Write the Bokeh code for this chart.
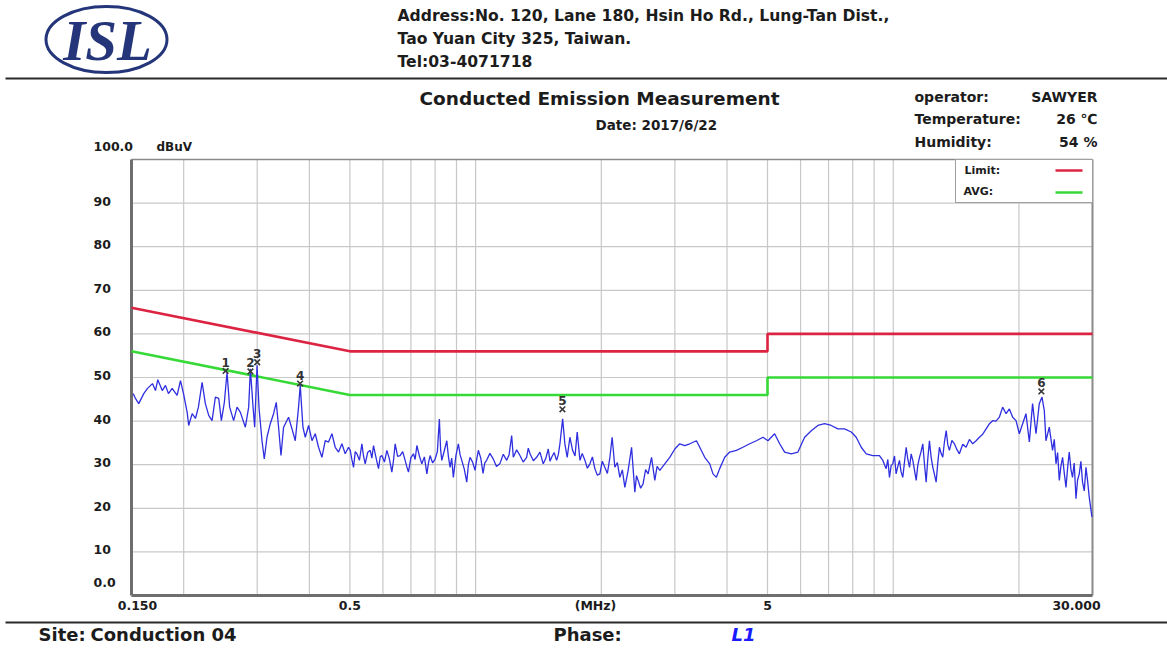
import math
from bokeh.plotting import figure
from bokeh.models import Range1d, LinearScale
from bokeh.core.properties import value
from bokeh.embed import file_html
from bokeh.resources import INLINE

# ---------------- data ----------------
limit_mhz = [0.15, 0.5, 5, 5, 30]
limit_qp_dbuv = [66, 56, 56, 60, 60]
limit_avg_dbuv = [56, 46, 46, 50, 50]

marker_ids = ["1", "2", "3", "4", "5", "6"]
marker_mhz = [0.252, 0.289, 0.300, 0.380, 1.614, 22.63]
marker_dbuv = [51.5, 51.4, 53.5, 48.6, 42.7, 46.8]

y_ticks = [0, 10, 20, 30, 40, 50, 60, 70, 80, 90, 100]
y_tick_labels = ["0.0", "10", "20", "30", "40", "50", "60", "70", "80", "90", "100.0"]
x_ticks = [0.15, 0.5, 5, 30]
x_tick_labels = ["0.150", "0.5", "5", "30.000"]
grid_mhz = [0.2, 0.3, 0.4, 0.5, 0.6, 0.7, 0.8, 0.9, 1, 2, 3, 4, 5, 6, 7, 8, 9, 10, 20]

trace_mhz = [
    # 0.15 - 0.5 MHz
    0.1514, 0.1533, 0.1561, 0.1605, 0.1638, 0.1684, 0.1712, 0.1734, 0.1777, 0.1809,
    0.1839, 0.1877, 0.1929, 0.1965, 0.1998, 0.2039, 0.2056, 0.2096, 0.2134, 0.2169,
    0.2214, 0.2254, 0.2296, 0.2339, 0.2382, 0.2426, 0.2462, 0.2503, 0.2540, 0.2577,
    0.2634, 0.2684, 0.2734, 0.2810, 0.2862, 0.2889, 0.2932, 0.2958, 0.2997, 0.3030,
    0.3080, 0.3119, 0.3166, 0.3224, 0.3283, 0.3332, 0.3375, 0.3420, 0.3469, 0.3566,
    0.3634, 0.3700, 0.3768, 0.3803, 0.3860, 0.3910, 0.3982, 0.4057, 0.4131, 0.4207,
    0.4286, 0.4365, 0.4445, 0.4529, 0.4612, 0.4697, 0.4785, 0.4873, 0.4963,
    # 0.5 - 1 MHz
    0.5010, 0.5055, 0.5102, 0.5150, 0.5198, 0.5270, 0.5343, 0.5390, 0.5441, 0.5515,
    0.5593, 0.5645, 0.5696, 0.5775, 0.5855, 0.5910, 0.5965, 0.6050, 0.6131, 0.6215,
    0.6302, 0.6360, 0.6418, 0.6505, 0.6597, 0.6690, 0.6781, 0.6845, 0.6906, 0.7000,
    0.7099, 0.7165, 0.7234, 0.7335, 0.7436, 0.7540, 0.7644, 0.7715, 0.7783, 0.7890,
    0.8000, 0.8100, 0.8190, 0.8245, 0.8300, 0.8415, 0.8532, 0.8610, 0.8688, 0.8765,
    0.8846, 0.8970, 0.9094, 0.9180, 0.9266, 0.9395, 0.9524, 0.9610, 0.9699, 0.9835,
    0.9970, 1.0060, 1.0153,
    # 1 - 2.8 MHz
    1.029, 1.042, 1.052, 1.063, 1.082, 1.101, 1.122, 1.144, 1.165, 1.187,
    1.203, 1.220, 1.231, 1.254, 1.277, 1.300, 1.325, 1.337, 1.350, 1.375,
    1.400, 1.426, 1.452, 1.472, 1.493, 1.507, 1.521, 1.542, 1.563, 1.578,
    1.592, 1.616, 1.636, 1.657, 1.682, 1.707, 1.730, 1.751, 1.778, 1.800,
    1.827, 1.852, 1.878, 1.904, 1.930, 1.957, 1.984, 2.011, 2.039, 2.068,
    2.097, 2.123, 2.155, 2.185, 2.215, 2.246, 2.277, 2.319, 2.363, 2.406,
    2.428, 2.450, 2.484, 2.518, 2.553, 2.589, 2.638, 2.686, 2.720, 2.761,
    # 2.8 - 9.3 MHz
    2.838, 2.917, 2.999, 3.082, 3.168, 3.257, 3.379, 3.441,
    3.537, 3.636, 3.702, 3.772, 3.841, 3.949, 4.059, 4.212, 4.367, 4.532,
    4.702, 4.876, 5.012, 5.200, 5.346, 5.495, 5.702, 5.913, 6.135, 6.365,
    6.601, 6.849, 7.105, 7.369, 7.645, 7.934, 8.154, 8.383, 8.616, 8.933,
    9.268,
    # 9.4 - 30 MHz
    9.441, 9.530, 9.617, 9.705, 9.795, 9.885, 9.975, 10.07, 10.16, 10.25,
    10.35, 10.44, 10.54, 10.64, 10.74, 10.84, 10.94, 11.04, 11.14, 11.24,
    11.35, 11.45, 11.56, 11.66, 11.77, 11.88, 11.99, 12.10, 12.21, 12.32,
    12.44, 12.55, 12.67, 12.78, 12.90, 13.02, 13.14, 13.26, 13.39, 13.51,
    13.63, 13.82, 14.01, 14.20, 14.40, 14.67, 14.94, 15.22, 15.50, 15.79,
    16.08, 16.38, 16.69, 17.00, 17.30, 17.62, 17.95, 18.28, 18.63, 18.97,
    19.32, 19.68, 20.04, 20.41, 20.79, 21.18, 21.56, 21.97, 22.37, 22.71,
    23.00, 23.21, 23.64, 24.07, 24.30, 24.53, 24.75, 24.98, 25.20, 25.44,
    25.68, 25.92, 26.15, 26.39, 26.63, 26.87, 27.12, 27.39, 27.63, 27.89,
    28.14, 28.40, 28.67, 28.94, 29.20, 29.47, 29.91,
]
trace_dbuv = [
    # 0.15 - 0.5 MHz
    46.3, 45.2, 44.0, 46.3, 47.5, 48.6, 47.0, 49.5, 47.0, 48.2,
    46.3, 47.5, 45.9, 49.3, 46.3, 42.0, 39.0, 41.7, 40.6, 43.2,
    48.9, 44.0, 41.3, 40.1, 45.5, 45.2, 40.1, 44.3, 51.2, 43.2,
    40.1, 43.2, 42.0, 38.6, 43.2, 52.0, 43.2, 38.6, 52.8, 43.0,
    35.5, 31.3, 36.3, 39.4, 41.7, 44.3, 38.6, 32.1, 38.6, 40.9,
    38.2, 35.5, 43.2, 48.2, 38.6, 36.3, 39.0, 35.5, 37.1, 34.0,
    31.7, 35.5, 35.2, 37.1, 34.0, 32.9, 34.8, 32.5, 34.0,
    # 0.5 - 1 MHz
    33.3, 31.2, 29.4, 33.0, 32.5, 31.0, 34.8, 32.0, 30.2, 32.8,
    33.3, 31.5, 34.4, 31.6, 29.1, 31.8, 32.1, 30.6, 33.3, 31.4,
    28.3, 31.0, 34.8, 31.9, 32.1, 33.0, 31.0, 29.5, 28.3, 31.6,
    32.5, 31.2, 34.4, 32.0, 30.2, 31.8, 27.9, 30.5, 32.1, 30.4,
    31.3, 33.0, 40.5, 33.5, 31.0, 33.2, 35.5, 31.8, 29.4, 31.5,
    27.1, 32.0, 34.8, 32.3, 31.0, 29.0, 26.0, 30.0, 31.7, 30.6,
    28.7, 31.2, 33.3,
    # 1 - 2.8 MHz
    31.5, 28.0, 30.4, 31.0, 32.6, 31.4, 29.6, 30.3, 32.4, 31.0,
    32.3, 36.7, 31.7, 33.4, 32.1, 30.6, 31.7, 33.8, 32.5, 30.9,
    31.7, 32.9, 30.2, 31.4, 33.6, 30.8, 31.7, 32.8, 31.0, 32.3,
    34.8, 40.5, 34.8, 31.7, 36.3, 33.3, 32.0, 37.5, 31.0, 32.6,
    31.0, 29.2, 30.2, 31.8, 29.1, 27.6, 27.9, 30.8, 29.4, 28.0,
    31.7, 36.3, 29.4, 30.5, 27.1, 28.8, 24.8, 28.7, 34.0, 23.7,
    27.5, 26.4, 24.6, 25.6, 28.9, 27.9, 31.7, 26.4, 29.6, 28.7,
    # 2.8 - 9.3 MHz
    30.2, 31.7, 33.6, 34.8, 34.4, 34.8, 35.5, 34.0,
    31.7, 30.2, 27.9, 27.1, 29.1, 31.7, 32.9, 33.3, 34.0, 34.8,
    35.5, 36.3, 35.5, 37.1, 34.8, 32.9, 32.5, 32.9, 36.3, 37.8,
    39.0, 39.4, 39.0, 38.2, 38.2, 37.5, 36.3, 34.0, 32.5, 32.1,
    32.1,
    # 9.4 - 30 MHz
    31.0, 30.0, 29.1, 31.2, 27.1, 29.8, 30.2, 32.0, 27.9, 29.5,
    31.0, 28.4, 27.1, 30.6, 34.0, 31.2, 29.4, 32.5, 31.0, 28.8,
    26.4, 29.9, 31.7, 33.0, 34.8, 30.1, 26.0, 31.4, 35.5, 31.8,
    29.4, 27.8, 26.0, 30.3, 34.0, 32.6, 31.7, 35.2, 37.8, 34.6,
    33.3, 35.6, 34.8, 33.5, 32.5, 34.7, 34.0, 35.8, 34.8, 35.5,
    36.3, 37.0, 38.2, 39.4, 40.1, 40.0, 40.9, 43.2, 41.7, 42.8,
    40.9, 40.1, 37.1, 39.4, 41.7, 35.2, 44.0, 37.1, 44.0, 45.5,
    42.4, 35.5, 38.6, 33.3, 35.8, 30.2, 32.8, 26.4, 29.6, 31.7,
    28.0, 24.8, 29.2, 32.9, 29.0, 27.1, 30.4, 22.2, 26.5, 27.9,
    30.8, 26.0, 24.0, 29.4, 26.3, 22.5, 18.0,
]

# ---------------- layout (canvas pixels) ----------------
W, H = 1167, 648
CH_L, CH_R, CH_T, CH_B = 131, 1092, 159, 595       # chart frame on the canvas
F_LO, F_HI, Y_LO, Y_HI = x_ticks[0], x_ticks[-1], y_ticks[0], y_ticks[-1]

dec_px = (CH_R - CH_L) / math.log10(F_HI / F_LO)
x_start = 10 ** (math.log10(F_LO) - CH_L / dec_px)
x_end = 10 ** (math.log10(F_HI) + (W - CH_R) / dec_px)
u_px = (CH_B - CH_T) / (Y_HI - Y_LO)
y_start = Y_LO - (H - CH_B) / u_px
y_end = Y_HI + CH_T / u_px

FONT = value("DejaVu Sans")
INK = "#1c1c1c"

p = figure(width=W, height=H, x_axis_type="log",
           x_range=Range1d(x_start, x_end), y_range=Range1d(y_start, y_end),
           x_axis_location=None, y_axis_location=None,
           output_backend="svg", toolbar_location=None,
           min_border=0, outline_line_color=None)
p.grid.visible = False
p.extra_x_ranges = {"px": Range1d(0, W)}
p.extra_y_ranges = {"px": Range1d(H, 0)}
p.extra_x_scales = {"px": LinearScale()}
p.extra_y_scales = {"px": LinearScale()}
PX = dict(x_range_name="px", y_range_name="px")

# ---------------- grid ----------------
grid_col = "#c8c8c8"
p.segment(x0=grid_mhz, x1=grid_mhz, y0=[Y_LO] * len(grid_mhz), y1=[Y_HI] * len(grid_mhz),
          line_color=grid_col, line_width=1.2)
hy = y_ticks[1:-1]
p.segment(x0=[F_LO] * len(hy), x1=[F_HI] * len(hy), y0=hy, y1=hy,
          line_color=grid_col, line_width=1.2)

# frame
p.segment(x0=[F_LO], x1=[F_HI], y0=[Y_HI], y1=[Y_HI], line_color="#8a8a8a", line_width=1.5)
p.segment(x0=[F_HI], x1=[F_HI], y0=[Y_LO], y1=[Y_HI], line_color="#8a8a8a", line_width=2)
p.segment(x0=[F_LO], x1=[F_LO], y0=[Y_LO], y1=[Y_HI], line_color="#6e6e6e", line_width=3)
p.segment(x0=[F_LO], x1=[F_HI], y0=[Y_LO], y1=[Y_LO], line_color="#6e6e6e", line_width=3)

# ---------------- series ----------------
RED, GREEN, BLUE = "#dc2442", "#36d936", "#2f2fe0"
p.line(limit_mhz, limit_qp_dbuv, line_color=RED, line_width=2.6)
p.line(limit_mhz, limit_avg_dbuv, line_color=GREEN, line_width=2.6)
p.line(trace_mhz, trace_dbuv, line_color=BLUE, line_width=1.3)

p.scatter(marker_mhz, marker_dbuv, marker="x", size=8, line_color="#3a3a3a", line_width=1.6)
p.text(marker_mhz, marker_dbuv, text=marker_ids, text_font=FONT, text_font_style="bold",
       text_font_size="12px", text_color="#333333", text_align="center",
       text_baseline="bottom", y_offset=-4)

# ---------------- axis labels ----------------
y_off = [-13 if v in (Y_LO, Y_HI) else -2 for v in y_ticks]
p.text(x=[93] * len(y_ticks), y=y_ticks, text=y_tick_labels, y_offset=y_off,
       text_font=FONT, text_font_style="bold", text_font_size="12.5px", text_color=INK,
       text_align="left", text_baseline="middle", x_range_name="px")
p.text(x=[156], y=[146], text=["dBuV"], text_font=FONT, text_font_style="bold",
       text_font_size="12px", text_color=INK, text_align="left", text_baseline="middle", **PX)
x_off = [6, 0, 0, -16]
p.text(x=x_ticks, y=[605] * len(x_ticks), text=x_tick_labels, x_offset=x_off,
       text_font=FONT, text_font_style="bold", text_font_size="12.5px", text_color=INK,
       text_align="center", text_baseline="middle", y_range_name="px")
p.text(x=[595], y=[605], text=["(MHz)"], text_font=FONT, text_font_style="bold",
       text_font_size="12.5px", text_color=INK, text_align="center", text_baseline="middle", **PX)

# ---------------- legend box ----------------
p.quad(left=[955], right=[1092], top=[159], bottom=[202], fill_color="white",
       line_color="#a0a0a0", line_width=1, **PX)
p.text(x=[964, 963], y=[170, 191], text=["Limit:", "AVG:"], text_font=FONT,
       text_font_style="bold", text_font_size="11px", text_color=INK,
       text_align="left", text_baseline="middle", **PX)
p.segment(x0=[1055], x1=[1082], y0=[170], y1=[170], line_color=RED, line_width=2.6, **PX)
p.segment(x0=[1055], x1=[1082], y0=[192], y1=[192], line_color=GREEN, line_width=2.6, **PX)

# ---------------- header ----------------
NAVY = "#24357a"
p.ellipse(x=[106], y=[39], width=[121], height=[66], width_units="screen",
          height_units="screen", fill_color=None, line_color=NAVY, line_width=3, **PX)
p.text(x=[107], y=[40], text=["ISL"], text_font=value("Liberation Serif"),
       text_font_style="bold italic", text_font_size="57px", text_color=NAVY,
       text_align="center", text_baseline="middle", **PX)
p.text(x=[397, 397, 397], y=[15, 38, 61],
       text=["Address:No. 120, Lane 180, Hsin Ho Rd., Lung-Tan Dist.,",
             "Tao Yuan City 325, Taiwan.", "Tel:03-4071718"],
       text_font=FONT, text_font_style="bold", text_font_size="15.6px", text_color=INK,
       text_align="left", text_baseline="middle", **PX)
p.segment(x0=[5], x1=[W], y0=[78], y1=[78], line_color="#2a2a2a", line_width=2, **PX)

p.text(x=[599], y=[98], text=["Conducted Emission Measurement"], text_font=FONT,
       text_font_style="bold", text_font_size="18.5px", text_color=INK,
       text_align="center", text_baseline="middle", **PX)
p.text(x=[595], y=[124], text=["Date: 2017/6/22"], text_font=FONT,
       text_font_style="bold", text_font_size="13.5px", text_color=INK,
       text_align="left", text_baseline="middle", **PX)
p.text(x=[914, 914, 914], y=[96, 118, 141], text=["operator:", "Temperature:", "Humidity:"],
       text_font=FONT, text_font_style="bold", text_font_size="14px", text_color=INK,
       text_align="left", text_baseline="middle", **PX)
p.text(x=[1097, 1097, 1097], y=[96, 118, 141], text=["SAWYER", "26 \u2103", "54 %"],
       text_font=FONT, text_font_style="bold", text_font_size="14px", text_color=INK,
       text_align="right", text_baseline="middle", **PX)

# ---------------- footer ----------------
p.segment(x0=[5], x1=[W], y0=[622], y1=[622], line_color="#2a2a2a", line_width=2, **PX)
p.text(x=[38, 90, 553], y=[634, 634, 634], text=["Site:", "Conduction 04", "Phase:"],
       text_font=FONT, text_font_style="bold", text_font_size="18px", text_color=INK,
       text_align="left", text_baseline="middle", **PX)
p.text(x=[731], y=[634], text=["L1"], text_font=FONT, text_font_style="bold italic",
       text_font_size="18px", text_color="#1a1aff", text_align="left",
       text_baseline="middle", **PX)

open("out.html", "w").write(file_html(p, INLINE))
